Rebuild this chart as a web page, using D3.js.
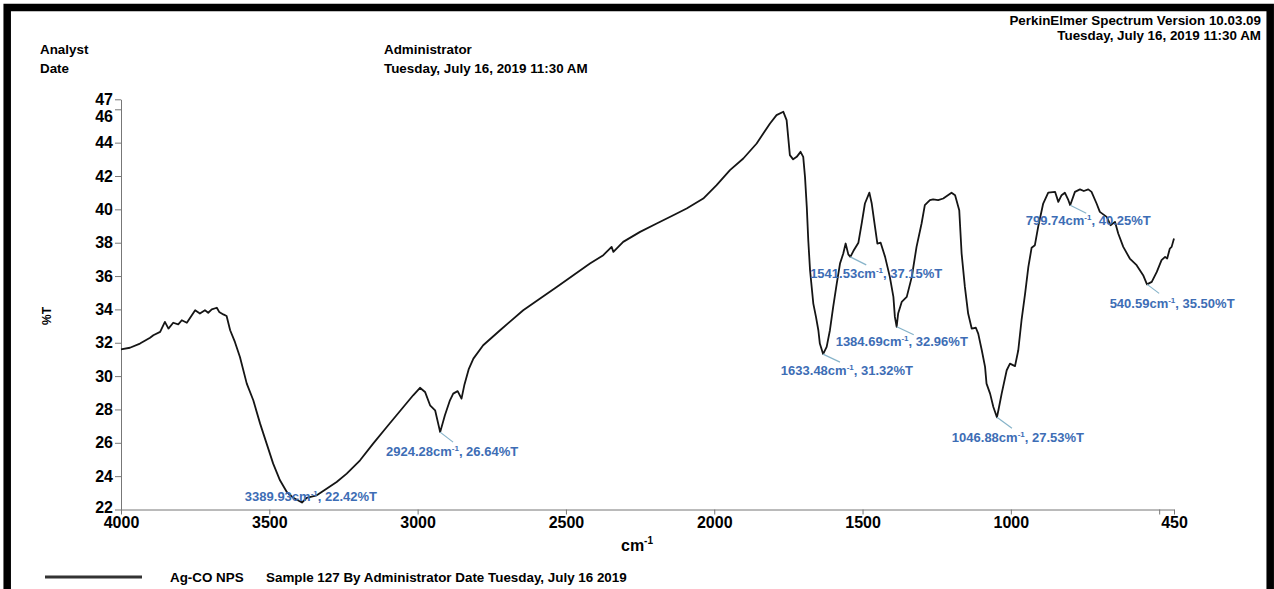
<!DOCTYPE html>
<html>
<head>
<meta charset="utf-8">
<script src="https://cdn.jsdelivr.net/npm/d3@7"></script>
<style>
  body { margin: 0; background: #fff; }
  svg { display: block; font-family: "Liberation Sans", Arial, sans-serif; }
  .axis text { font-size: 16px; font-weight: bold; fill: #000; }
  .axis path, .axis line { stroke: #777; }
  .hdr { font-size: 13.4px; font-weight: bold; fill: #000; }
  .peak { font-size: 13px; font-weight: bold; fill: #3d6db5; }
</style>
</head>
<body>
<div id="chart"></div>
<script>
// spectrum (cm-1 and %T)
const wavenumber = [4000, 3970, 3936, 3902, 3891, 3868, 3852, 3840, 3824, 3807, 3795, 3778, 3750, 3734, 3717, 3706, 3694, 3677, 3669, 3655, 3644, 3632, 3616, 3599, 3576, 3554, 3531, 3509, 3487, 3464, 3441, 3419, 3390, 3374, 3340, 3307, 3273, 3239, 3194, 3150, 3104, 3048, 3015, 2992, 2975, 2958, 2941, 2924, 2908, 2891, 2880, 2865, 2852, 2842, 2828, 2812, 2779, 2722, 2644, 2587, 2531, 2475, 2419, 2374, 2346, 2340, 2307, 2250, 2194, 2138, 2093, 2037, 1992, 1947, 1902, 1857, 1812, 1790, 1767, 1756, 1745, 1734, 1722, 1709, 1700, 1694, 1688, 1683, 1677, 1666, 1657, 1649, 1644, 1633, 1621, 1610, 1599, 1587, 1576, 1565, 1557, 1548, 1541, 1531, 1514, 1503, 1492, 1477, 1469, 1458, 1450, 1439, 1424, 1408, 1396, 1391, 1385, 1380, 1368, 1351, 1334, 1318, 1301, 1290, 1273, 1262, 1245, 1228, 1200, 1188, 1174, 1166, 1155, 1144, 1132, 1118, 1110, 1098, 1087, 1082, 1070, 1059, 1047, 1042, 1031, 1014, 1003, 986, 975, 964, 952, 941, 930, 919, 908, 891, 874, 851, 840, 829, 818, 806, 800, 784, 767, 754, 739, 728, 711, 700, 677, 664, 649, 638, 621, 599, 576, 554, 541, 525, 508, 492, 480, 473, 464, 458, 450];
const transmittance = [31.6, 31.7, 31.95, 32.3, 32.45, 32.65, 33.25, 32.85, 33.2, 33.1, 33.35, 33.2, 33.95, 33.75, 33.95, 33.8, 34.0, 34.1, 33.85, 33.7, 33.6, 32.75, 32.05, 31.15, 29.55, 28.55, 27.15, 25.95, 24.75, 23.75, 23.05, 22.7, 22.42, 22.7, 22.85, 23.25, 23.65, 24.15, 24.95, 25.95, 26.95, 28.15, 28.85, 29.3, 29.05, 28.25, 27.95, 26.64, 27.65, 28.55, 28.95, 29.1, 28.65, 29.5, 30.4, 31.05, 31.85, 32.75, 33.95, 34.65, 35.35, 36.05, 36.75, 37.25, 37.75, 37.45, 38.05, 38.65, 39.15, 39.65, 40.05, 40.65, 41.45, 42.35, 43.05, 43.95, 45.15, 45.65, 45.85, 45.35, 43.25, 43.0, 43.15, 43.45, 43.15, 41.95, 40.15, 38.15, 36.35, 34.35, 33.55, 32.75, 31.95, 31.32, 31.75, 32.75, 34.15, 35.55, 36.75, 37.35, 37.95, 37.3, 37.15, 37.5, 38.0, 39.15, 40.35, 41.0, 40.35, 38.95, 37.95, 38.0, 37.15, 35.95, 34.75, 33.55, 32.96, 33.75, 34.45, 34.75, 35.95, 37.75, 39.15, 40.25, 40.55, 40.6, 40.55, 40.65, 41.0, 40.85, 39.95, 37.35, 35.35, 33.75, 32.85, 32.9, 32.55, 31.55, 30.55, 29.55, 28.95, 28.15, 27.53, 27.95, 28.95, 30.35, 30.75, 30.6, 31.55, 33.35, 34.95, 36.55, 37.7, 37.85, 38.95, 40.35, 41.0, 41.05, 40.45, 40.85, 41.0, 40.55, 40.25, 41.05, 41.2, 41.1, 41.2, 41.05, 40.35, 39.85, 39.55, 39.05, 39.25, 38.55, 37.75, 37.05, 36.65, 36.05, 35.5, 35.65, 36.25, 36.95, 37.15, 37.05, 37.65, 37.75, 38.25];

// labelled peaks
const peakWavenumber = [3389.93, 2924.28, 1633.48, 1541.53, 1384.69, 1046.88, 799.74, 540.59];
const peakT = [22.42, 26.64, 31.32, 37.15, 32.96, 27.53, 40.25, 35.50];

// axis extents and ticks
const xExtent = [4000, 450];
const yExtent = [22, 46.6];
const xTicks = [4000, 3500, 3000, 2500, 2000, 1500, 1000, 500, 450];
const xTickLabels = ["4000", "3500", "3000", "2500", "2000", "1500", "1000", "", "450"];
const yTicks = [22, 24, 26, 28, 30, 32, 34, 36, 38, 40, 42, 44, 46, 46.6];

// header / legend text
const headerLeft = [["Analyst", "Administrator"], ["Date", "Tuesday, July 16, 2019 11:30 AM"]];
const headerRight = ["PerkinElmer Spectrum Version 10.03.09", "Tuesday, July 16, 2019 11:30 AM"];
const legendName = "Ag-CO NPS";
const legendDesc = "Sample 127 By Administrator Date Tuesday, July 16 2019";

const width = 1274, height = 589;
const plot = { left: 121, right: 1174, top: 99.3, bottom: 509.5 };

// offsets of leader end and label centre from each peak (px)
const leaderOffsets = [[0, 0], [13, 10], [17, 8], [16, 8], [17, 8], [15, 11], [16, 8], [12, 9]];
const labelOffsets = [[9, -6], [12, 19], [24, 16], [26, 17], [5, 15], [21, 20], [18, 15], [25, 19]];

const svg = d3.select("#chart").append("svg")
  .attr("width", width)
  .attr("height", height);

// frame
svg.append("rect")
  .attr("x", 7.2).attr("y", 7.5)
  .attr("width", 1263).attr("height", 640)
  .attr("fill", "none")
  .attr("stroke", "#000")
  .attr("stroke-width", 7.5);

// SCALES
const x = d3.scaleLinear().domain(xExtent).range([plot.left, plot.right]);
const y = d3.scaleLinear().domain(yExtent).range([plot.bottom, plot.top]);

// AXIS
const xAxis = d3.axisBottom(x)
  .tickValues(xTicks)
  .tickFormat((d, i) => xTickLabels[i])
  .tickSize(5).tickSizeOuter(0).tickPadding(2);
const yAxis = d3.axisLeft(y)
  .tickValues(yTicks)
  .tickFormat(d3.format(".0f"))
  .tickSize(6).tickSizeOuter(0).tickPadding(2);

svg.append("g")
  .attr("class", "axis")
  .attr("transform", `translate(0, ${plot.bottom})`)
  .call(xAxis);

const gy = svg.append("g")
  .attr("class", "axis")
  .attr("transform", `translate(${plot.left}, 0)`)
  .call(yAxis);
// 46 label is pushed down so it does not collide with the end label
gy.selectAll(".tick text").filter((d) => d === 46).attr("dy", "0.75em");
gy.selectAll(".tick text").filter((d) => d === 22).attr("dy", "0.2em");

// axis titles
const xt = svg.append("text")
  .attr("x", 637).attr("y", 551)
  .attr("text-anchor", "middle")
  .style("font-size", "16px").style("font-weight", "bold");
xt.append("tspan").text("cm");
xt.append("tspan").attr("dy", -7).style("font-size", "10px").text("-1");

svg.append("text")
  .attr("transform", "translate(51, 316) rotate(-90)")
  .attr("text-anchor", "middle")
  .style("font-size", "12px").style("font-weight", "bold")
  .text("%T");

// spectrum line
const spectrum = wavenumber.map((w, i) => [w, transmittance[i]]);
const line = d3.line().x((d) => x(d[0])).y((d) => y(d[1]));
svg.append("path")
  .datum(spectrum)
  .attr("d", line)
  .attr("fill", "none")
  .attr("stroke", "#151515")
  .attr("stroke-width", 1.8)
  .attr("stroke-linejoin", "round");

// peak leaders and labels
const peaks = peakWavenumber.map((w, i) => ({ w: w, t: peakT[i], lead: leaderOffsets[i], lab: labelOffsets[i] }));

svg.selectAll(".leader")
  .data(peaks.filter((d) => d.lead[0] !== 0))
  .enter()
  .append("line")
  .attr("class", "leader")
  .attr("x1", (d) => x(d.w))
  .attr("y1", (d) => y(d.t))
  .attr("x2", (d) => x(d.w) + d.lead[0])
  .attr("y2", (d) => y(d.t) + d.lead[1])
  .attr("stroke", "#86b3c9")
  .attr("stroke-width", 1.2);

const labels = svg.selectAll(".peak")
  .data(peaks)
  .enter()
  .append("text")
  .attr("class", "peak")
  .attr("x", (d) => x(d.w) + d.lab[0])
  .attr("y", (d) => y(d.t) + d.lab[1] + 4.5)
  .attr("text-anchor", "middle");
labels.append("tspan").text((d) => d.w.toFixed(2) + "cm");
labels.append("tspan").attr("dy", -5).style("font-size", "8px").text("-1");
labels.append("tspan").attr("dy", 5).text((d) => ", " + d.t.toFixed(2) + "%T");

// header
headerLeft.forEach((row, i) => {
  svg.append("text").attr("class", "hdr")
    .attr("x", 40).attr("y", 54 + i * 19).text(row[0]);
  svg.append("text").attr("class", "hdr")
    .attr("x", 384).attr("y", 54 + i * 19).text(row[1]);
});
headerRight.forEach((t, i) => {
  svg.append("text").attr("class", "hdr")
    .attr("x", 1261).attr("y", 25 + i * 15)
    .attr("text-anchor", "end").text(t);
});

// legend
svg.append("line")
  .attr("x1", 45).attr("x2", 142)
  .attr("y1", 577).attr("y2", 577)
  .attr("stroke", "#333").attr("stroke-width", 3);
svg.append("text").attr("class", "hdr")
  .attr("x", 170).attr("y", 582).text(legendName);
svg.append("text").attr("class", "hdr")
  .attr("x", 266).attr("y", 582).text(legendDesc);
</script>
</body>
</html>
